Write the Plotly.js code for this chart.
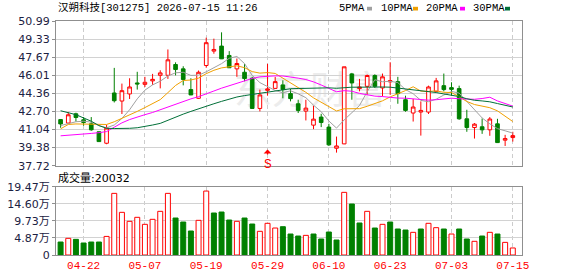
<!DOCTYPE html>
<html><head><meta charset="utf-8">
<script src="https://cdn.plot.ly/plotly-3.0.1.min.js"></script>
<style>html,body{margin:0;padding:0;background:#fff;}#chart{width:578px;height:276px;}</style>
</head><body><div id="chart"></div>
<script>
const dates = ['2026-04-17','2026-04-20','2026-04-21','2026-04-22','2026-04-23','2026-04-24','2026-04-27','2026-04-28','2026-04-29','2026-04-30',
'2026-05-06','2026-05-07','2026-05-08','2026-05-11','2026-05-12','2026-05-13','2026-05-14','2026-05-15','2026-05-18','2026-05-19',
'2026-05-20','2026-05-21','2026-05-22','2026-05-25','2026-05-26','2026-05-27','2026-05-28','2026-05-29','2026-06-01','2026-06-02',
'2026-06-03','2026-06-04','2026-06-05','2026-06-08','2026-06-09','2026-06-10','2026-06-11','2026-06-12','2026-06-15','2026-06-16',
'2026-06-17','2026-06-18','2026-06-22','2026-06-23','2026-06-24','2026-06-25','2026-06-26','2026-06-29','2026-06-30','2026-07-01',
'2026-07-02','2026-07-03','2026-07-06','2026-07-07','2026-07-08','2026-07-09','2026-07-10','2026-07-13','2026-07-14','2026-07-15'];
const open  = [41.95,41.63,42.48,41.93,41.56,40.83,39.78,44.39,43.65,44.30, 45.31,45.18,45.50,46.01,46.01,47.00,46.60,44.70,43.90,46.91,
               48.23,48.69,47.83,46.60,46.29,45.74,42.97,44.63,44.81,45.13, 44.33,43.40,42.73,41.44,42.18,41.26,39.32,39.72,46.14,44.79,
               45.00,45.99,44.85,45.41,45.43,43.77,42.55,42.64,42.64,44.54, 45.06,44.88,44.79,42.02,41.22,41.29,41.01,41.56,40.06,40.30];
const high  = [42.00,42.64,42.58,42.18,42.18,40.85,41.47,46.69,45.25,45.74, 46.33,45.87,46.14,46.47,48.38,47.20,46.84,45.74,46.45,49.46,
               49.37,49.95,48.23,47.55,47.06,45.87,44.70,47.06,45.87,45.55, 44.76,43.77,43.77,43.22,42.48,41.56,40.39,46.79,46.23,45.68,
               46.08,46.10,46.17,47.21,45.87,44.14,43.84,43.62,45.06,45.77, 46.17,45.37,45.06,42.85,41.63,42.05,42.18,42.02,40.55,40.83];
const low   = [41.20,41.56,41.77,41.38,40.92,39.90,39.69,43.52,42.46,43.84, 44.70,44.94,45.13,44.81,45.68,46.00,45.09,44.19,43.85,46.70,
               47.99,47.50,46.68,45.87,45.46,42.94,42.70,44.14,44.78,43.90, 43.62,42.55,41.87,41.07,41.26,39.53,38.92,39.70,43.77,44.54,
               44.23,44.85,44.08,44.23,43.40,42.67,41.77,40.48,42.46,44.50, 44.54,44.14,41.93,40.83,40.21,40.64,40.46,39.80,39.53,39.93];
const close = [41.55,42.39,42.14,41.68,41.01,39.93,41.17,43.68,44.60,44.94, 45.22,45.37,45.64,46.23,47.43,46.54,45.62,44.21,46.29,49.00,
               48.38,47.52,46.70,47.09,45.71,42.97,44.21,44.76,45.43,44.70, 43.87,42.79,43.00,41.99,41.68,39.63,39.53,46.79,45.31,44.94,
               45.99,45.00,45.87,45.52,44.33,42.79,43.10,42.79,44.94,45.50, 44.70,44.72,42.02,41.22,41.53,41.01,42.00,39.84,40.21,40.48];
// volume in 万
const volume = [3.70,4.75,4.46,3.42,3.70,3.70,5.30,17.57,12.16,9.60, 10.74,8.74,10.17,12.45,17.57,10.54,9.40,6.84,9.88,18.23,
                11.97,12.25,9.97,9.60,10.54,8.83,6.75,9.03,7.69,8.07, 5.98,5.41,5.60,5.98,4.56,6.55,4.27,17.86,14.53,9.12,
                12.45,7.69,8.74,9.40,7.41,7.12,6.46,7.41,9.03,7.79, 7.41,5.98,7.41,4.56,3.90,5.41,6.46,5.98,3.60,2.0032];
const ma5  = [41.40,41.60,41.75,41.80,41.72,41.40,41.20,41.45,42.05,42.85, 43.85,44.65,45.13,45.47,45.95,46.24,46.29,46.00,46.02,46.33,
              46.70,47.08,47.57,47.74,47.08,46.00,45.34,44.95,44.62,44.41, 44.59,44.31,43.96,43.27,42.67,41.82,41.17,41.92,42.59,43.24,
              44.51,45.60,45.42,45.46,45.34,44.70,44.32,43.71,43.59,43.82, 44.20,44.53,44.38,43.63,42.84,42.10,41.56,41.12,40.92,40.71];
const ma10 = [41.10,41.50,41.55,41.55,41.55,41.50,41.50,41.75,42.05,42.33, 42.70,43.05,43.40,43.78,44.42,45.08,45.53,45.58,45.75,46.16,
              46.47,46.69,46.79,46.88,46.71,46.35,46.21,46.26,46.18,45.75, 45.30,44.82,44.45,43.94,43.54,43.21,42.74,42.94,42.93,42.95,
              43.17,43.39,43.67,44.03,44.29,44.61,44.96,44.56,44.53,44.58, 44.45,44.43,44.04,43.61,43.33,43.15,43.04,42.75,42.28,41.77];
const ma20 = [40.46,40.50,40.55,40.60,40.68,40.75,40.85,41.25,41.65,41.95, 42.20,42.40,42.60,42.85,43.15,43.40,43.65,43.85,44.05,44.28,
              44.57,44.83,45.06,45.33,45.56,45.72,45.87,45.92,45.96,45.95, 45.88,45.75,45.62,45.41,45.12,44.80,44.50,44.60,44.55,44.35,
              44.23,44.10,44.06,43.98,43.92,43.91,43.85,43.75,43.73,43.77, 43.81,43.91,43.86,43.82,43.81,43.88,44.00,43.66,43.40,43.18];
const ma30 = [42.76,42.60,42.40,42.10,41.80,41.40,41.15,41.13,41.13,41.15, 41.20,41.30,41.45,41.60,41.90,42.20,42.45,42.70,42.95,43.20,
              43.40,43.62,43.85,44.02,44.15,44.25,44.38,44.48,44.58,44.70, 44.78,44.80,44.83,44.85,44.86,44.86,44.82,44.90,44.92,44.92,
              44.94,44.94,44.94,44.92,44.84,44.72,44.64,44.59,44.54,44.43, 44.30,44.21,44.06,43.86,43.72,43.66,43.58,43.42,43.24,43.10];
const tickDates  = ['2026-04-22','2026-05-07','2026-05-19','2026-05-29','2026-06-10','2026-06-23','2026-07-03','2026-07-15'];
const tickLabels = ['04-22','05-07','05-19','05-29','06-10','06-23','07-03','07-15'];
const priceTicks = [37.72,39.38,41.04,42.70,44.36,46.01,47.67,49.33,50.99];
const volTicks   = [0,4.87,9.73,14.60,19.47];
const volLabels  = ['0','4.87万','9.73万','14.60万','19.47万'];
const maNames  = ['5PMA','10PMA','20PMA','30PMA'];
const maColors = ['#a0a0a0','#f0a000','#ff00ff','#006f38'];
const titleText = '汉朔科技[301275] 2026-07-15 11:26';
const volText = '成交量:20032';
const signalDate = '2026-05-29';

const UP = '#ff0000', DOWN = '#008000';
const volUp = volume.map((v,i)=> i===0 ? close[0]>=open[0] : close[i]>=close[i-1]);

const traces = [
  {type:'candlestick', x:dates, open:open, high:high, low:low, close:close, xaxis:'x', yaxis:'y',
   increasing:{line:{color:UP,width:1}, fillcolor:'#ffffff'},
   decreasing:{line:{color:DOWN,width:1}, fillcolor:DOWN},
   whiskerwidth:0, hoverinfo:'skip'}
];
[ma5,ma10,ma20,ma30].forEach((m,k)=>traces.push({type:'scatter',mode:'lines',x:dates,y:m,xaxis:'x',yaxis:'y',
  line:{color:maColors[k],width:1}, hoverinfo:'skip', name:maNames[k]}));
traces.push({type:'bar', x:dates, y:volume, xaxis:'x2', yaxis:'y2',
  marker:{color:volUp.map(u=>u?'#ffffff':DOWN), line:{color:volUp.map(u=>u?UP:DOWN), width:1}}, hoverinfo:'skip'});

const L=56, R=522, T=21, B=255, PW=R-L, PH=B-T;
const px = x => (x-L)/PW, py = y => 1-(y-T)/PH;
const axisLine = '#8f8f8f', grid = '#d2d2d2', labCol = '#1b2142';
const tickFont = {family:'DejaVu Sans, Noto Sans CJK SC', size:11, color:labCol};

const annotations = [
  {xref:'paper',yref:'paper',x:px(56),y:py(8),xanchor:'left',yanchor:'middle',showarrow:false,text:titleText,
   font:{family:'Liberation Mono, Noto Sans CJK SC',size:10.5,color:'#000'}},
  {xref:'paper',yref:'paper',x:px(56),y:py(177.5),xanchor:'left',yanchor:'middle',showarrow:false,text:volText,
   font:{family:'DejaVu Sans, Noto Sans CJK SC',size:11,color:'#000'}},
  {xref:'x',yref:'paper',x:signalDate,y:py(149.5),axref:'pixel',ayref:'pixel',ax:0,ay:5,xanchor:'center',yanchor:'top',
   showarrow:true,arrowhead:1,arrowsize:1,arrowwidth:1.3,arrowcolor:UP,standoff:0,startstandoff:0,text:'S',
   font:{family:'Liberation Mono',size:13,color:UP}}
];
const legX = [338,380,425,472], sqX = [367,413,460,505];
const shapes = [
  {type:'rect',xref:'paper',yref:'paper',x0:px(225),x1:px(395),y0:py(112),y1:py(72),line:{width:0},fillcolor:'rgba(0,0,0,0)',layer:'below',
   label:{text:'东方财富',font:{family:'Noto Sans CJK SC',size:38,color:'#ececec'},textposition:'middle center'}}
];
maNames.forEach((n,k)=>{
  annotations.push({xref:'paper',yref:'paper',x:px(legX[k]-1),y:py(8.5),xanchor:'left',yanchor:'middle',showarrow:false,text:n,
    font:{family:'Liberation Mono',size:10.5,color:'#000'}});
  shapes.push({type:'rect',xref:'paper',yref:'paper',x0:px(sqX[k]),x1:px(sqX[k]+5),y0:py(10.5),y1:py(6.8),
    line:{width:0},fillcolor:maColors[k]});
});

const xCommon = {type:'category', range:[-0.6,60.2], tickvals:tickDates, ticktext:tickLabels,
  showgrid:true, gridcolor:'#cccccc', griddash:'4px,3px', gridwidth:1, showline:true, mirror:true, linecolor:axisLine, linewidth:1,
  ticks:'', zeroline:false, fixedrange:true};
const layout = {
  width:578, height:276, margin:{l:L,r:578-R,t:T,b:276-B,pad:0},
  paper_bgcolor:'#ffffff', plot_bgcolor:'rgba(0,0,0,0)', showlegend:false,
  font:{family:'DejaVu Sans, Noto Sans CJK SC', size:11, color:labCol},
  boxgap:0.32, bargap:0.35,
  xaxis:Object.assign({}, xCommon, {anchor:'y', showticklabels:false, rangeslider:{visible:false}}),
  xaxis2:Object.assign({}, xCommon, {anchor:'y2', matches:'x', showticklabels:true,
     tickfont:{family:'Liberation Mono',size:11,color:UP}}),
  yaxis:{domain:[py(165.7),1], range:[37.72,50.99], tickvals:priceTicks, ticktext:priceTicks.map(v=>v.toFixed(2)),
     ticks:'outside', ticklen:3, tickcolor:axisLine, showgrid:true, gridcolor:grid, showline:true, mirror:true,
     linecolor:axisLine, zeroline:false, tickfont:tickFont, fixedrange:true},
  yaxis2:{domain:[0,py(186.7)], range:[0,19.47], tickvals:volTicks, ticktext:volLabels,
     ticks:'outside', ticklen:3, tickcolor:axisLine, showgrid:true, gridcolor:grid, showline:true, mirror:true,
     linecolor:axisLine, zeroline:false, tickfont:tickFont, fixedrange:true},
  annotations:annotations, shapes:shapes
};
Plotly.newPlot('chart', traces, layout, {staticPlot:true, displayModeBar:false});
</script></body></html>
